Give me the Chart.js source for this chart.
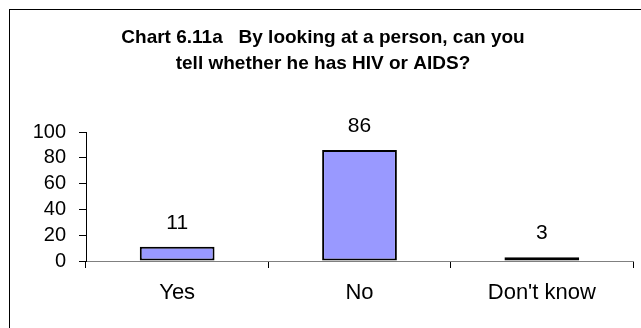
<!DOCTYPE html>
<html>
<head>
<meta charset="utf-8">
<title>Chart 6.11a</title>
<script src="https://cdn.jsdelivr.net/npm/chart.js@4.4.0/dist/chart.umd.min.js"></script>
<style>
    html, body {
        margin: 0;
        padding: 0;
        background: #ffffff;
    }
    #answerChart {
        display: block;
    }
</style>
</head>
<body>
<canvas id="answerChart" width="641" height="328"></canvas>
<script>
/**
 * Chart 6.11a
 * - 응답별 비율 (%)
 */

const categories = ['Yes', 'No', "Don't know"];
const percentValues = [11, 86, 3];
const yTickValues = [0, 20, 40, 60, 80, 100];

const titleLines = [
    'Chart 6.11a   By looking at a person, can you',
    'tell whether he has HIV or AIDS?'
];

const FONT_FAMILY = '"Liberation Sans", Arial, sans-serif';

let answerChart;


// 바깥 테두리 + 제목
const frameTitlePlugin = {
    id: 'frameTitle',
    beforeDraw: function(chart) {
        const ctx = chart.ctx;
        ctx.save();
        ctx.fillStyle = '#ffffff';
        ctx.fillRect(0, 0, chart.width, chart.height);
        ctx.strokeStyle = '#000000';
        ctx.lineWidth = 1;
        ctx.strokeRect(9.5, 9.5, 700, 400);

        ctx.fillStyle = '#000000';
        ctx.font = 'bold 19px ' + FONT_FAMILY;
        ctx.textAlign = 'center';
        ctx.textBaseline = 'middle';
        ctx.fillText(titleLines[0], 323, 38);
        ctx.fillText(titleLines[1], 323, 64);
        ctx.restore();
    }
};


// 막대 위 값 표시
const valueLabelPlugin = {
    id: 'valueLabel',
    afterDatasetsDraw: function(chart) {
        const ctx = chart.ctx;
        const meta = chart.getDatasetMeta(0);
        ctx.save();
        ctx.fillStyle = '#000000';
        ctx.font = '21px ' + FONT_FAMILY;
        ctx.textAlign = 'center';
        ctx.textBaseline = 'middle';
        meta.data.forEach(function(bar, i) {
            ctx.fillText(String(percentValues[i]), bar.x, bar.y - 24);
        });
        ctx.restore();
    }
};


function initAnswerChart() {

    const ctx = document.getElementById('answerChart');

    if (!ctx) {
        return;
    }

    answerChart = new Chart(ctx.getContext('2d'), {
        type: 'bar',
        data: {
            labels: categories,
            datasets: [
                {
                    data: percentValues,
                    backgroundColor: '#9999ff',
                    borderColor: '#000000',
                    borderWidth: 2,
                    borderSkipped: false,
                    categoryPercentage: 1,
                    barPercentage: 0.41
                }
            ]
        },
        options: {
            responsive: false,
            animation: false,
            layout: {
                padding: {
                    top: 132,
                    right: 8,
                    bottom: 0,
                    left: 0
                }
            },
            plugins: {
                legend: {
                    display: false
                },
                tooltip: {
                    enabled: false
                },
                title: {
                    display: false
                }
            },
            scales: {
                x: {
                    afterFit: function(scale) {
                        scale.height = 67;
                    },
                    grid: {
                        offset: true,
                        drawOnChartArea: false,
                        drawTicks: true,
                        tickLength: 7,
                        color: '#000000'
                    },
                    border: {
                        color: '#808080',
                        width: 1
                    },
                    ticks: {
                        color: '#000000',
                        padding: 12,
                        font: {
                            family: FONT_FAMILY,
                            size: 22
                        }
                    }
                },
                y: {
                    min: 0,
                    max: 100,
                    afterFit: function(scale) {
                        scale.width = 86;
                    },
                    afterBuildTicks: function(scale) {
                        scale.ticks = yTickValues.map(function(v) {
                            return { value: v };
                        });
                    },
                    grid: {
                        drawOnChartArea: false,
                        drawTicks: true,
                        tickLength: 7,
                        color: '#000000'
                    },
                    border: {
                        color: '#000000',
                        width: 1
                    },
                    ticks: {
                        autoSkip: false,
                        color: '#000000',
                        padding: 13,
                        font: {
                            family: FONT_FAMILY,
                            size: 20,
                            lineHeight: 1
                        }
                    }
                }
            }
        },
        plugins: [frameTitlePlugin, valueLabelPlugin]
    });
}


// 초기 로딩
initAnswerChart();
</script>
</body>
</html>
